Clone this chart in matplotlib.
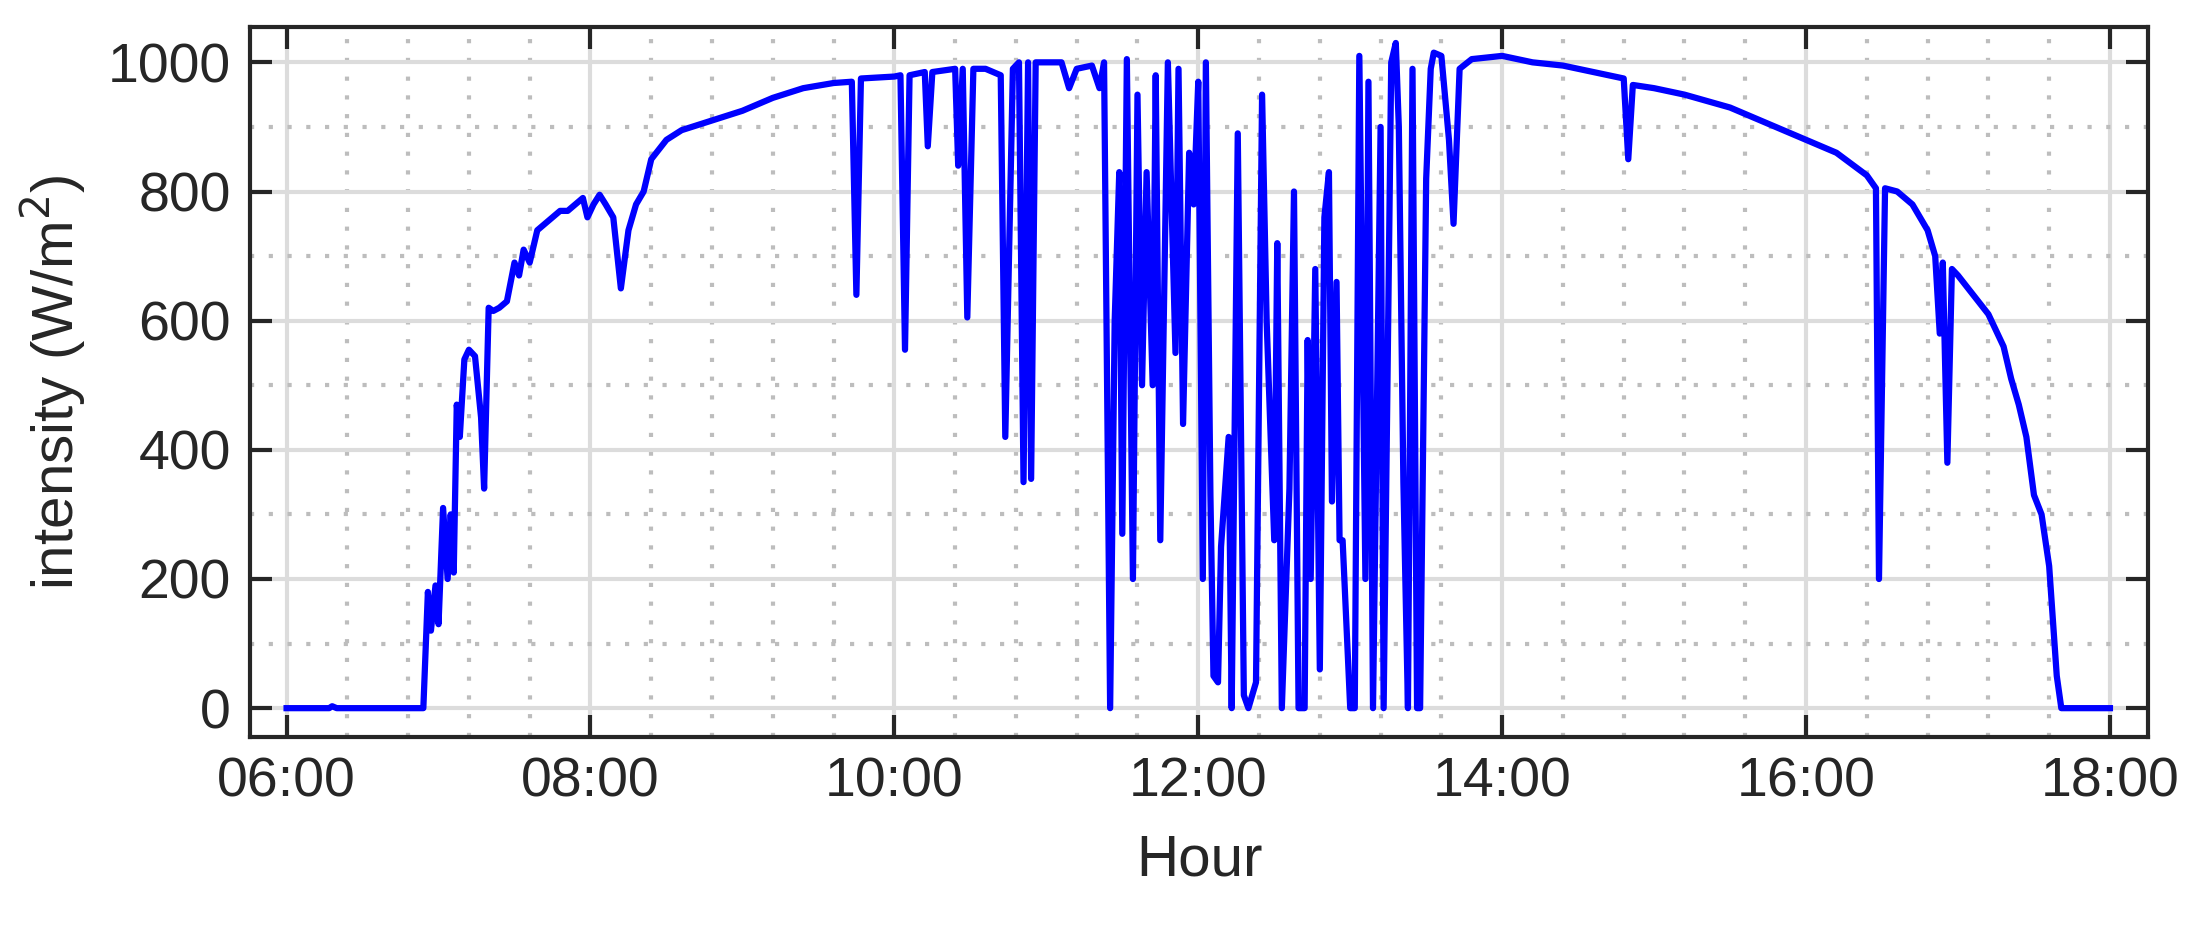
import matplotlib
matplotlib.use("Agg")
import matplotlib.pyplot as plt
from matplotlib.ticker import MultipleLocator, FuncFormatter

hours = [6.0, 6.28, 6.3, 6.33, 6.88, 6.9, 6.93, 6.95, 6.98, 7.0, 7.03, 7.06, 7.08, 7.1, 7.12, 7.14, 7.17, 7.2, 7.24, 7.28, 7.3,
         7.33, 7.36, 7.4, 7.45, 7.5, 7.53, 7.56, 7.6, 7.65, 7.7, 7.75, 7.8, 7.85, 7.9, 7.95, 7.98, 8.02, 8.06, 8.1, 8.15,
         8.2, 8.25, 8.3, 8.35, 8.4, 8.5, 8.6, 8.8, 9.0, 9.2, 9.4, 9.6, 9.72, 9.75, 9.78, 10.0, 10.04, 10.07, 10.1, 10.2,
         10.22, 10.25, 10.4, 10.42, 10.45, 10.48, 10.52, 10.6, 10.7, 10.73, 10.78, 10.82, 10.85, 10.88, 10.9, 10.93, 11.0,
         11.1, 11.15, 11.2, 11.3, 11.35, 11.38, 11.4, 11.42, 11.45, 11.48, 11.5, 11.53, 11.57, 11.6, 11.63, 11.66, 11.7,
         11.72, 11.75, 11.8, 11.85, 11.87, 11.9, 11.94, 11.97, 12.0, 12.03, 12.05, 12.08, 12.1, 12.13, 12.15, 12.2, 12.22,
         12.26, 12.3, 12.33, 12.38, 12.42, 12.45, 12.5, 12.52, 12.55, 12.6, 12.63, 12.66, 12.7, 12.72, 12.74, 12.77, 12.8,
         12.83, 12.86, 12.88, 12.91, 12.93, 12.95, 13.0, 13.03, 13.06, 13.1, 13.12, 13.15, 13.2, 13.22, 13.27, 13.3, 13.32,
         13.35, 13.38, 13.41, 13.44, 13.46, 13.5, 13.53, 13.55, 13.6, 13.65, 13.68, 13.72, 13.8, 14.0, 14.2, 14.4, 14.6,
         14.8, 14.83, 14.86, 15.0, 15.2, 15.5, 15.8, 16.0, 16.2, 16.4, 16.46, 16.48, 16.52, 16.6, 16.7, 16.8, 16.85, 16.88,
         16.9, 16.93, 16.96, 17.0, 17.1, 17.2, 17.3, 17.35, 17.4, 17.45, 17.5, 17.55, 17.6, 17.65, 17.68, 18.0]
intensity = [0, 0, 3, 0, 0, 0, 180, 120, 190, 130, 310, 200, 300, 210, 470, 420, 540, 555, 545, 450, 340,
             620, 615, 620, 630, 690, 670, 710, 690, 740, 750, 760, 770, 770, 780, 790, 760, 780, 795, 780, 760,
             650, 740, 780, 800, 850, 880, 895, 910, 925, 945, 960, 968, 970, 640, 975, 978, 980, 555, 980, 985,
             870, 985, 990, 840, 990, 605, 990, 990, 980, 420, 990, 1000, 350, 1000, 355, 1000, 1000,
             1000, 960, 990, 995, 960, 1000, 500, 0, 600, 830, 270, 1005, 200, 950, 500, 830, 500,
             980, 260, 1000, 550, 990, 440, 860, 780, 970, 200, 1000, 330, 50, 40, 250, 420, 0,
             890, 20, 0, 40, 950, 600, 260, 720, 0, 340, 800, 0, 0, 570, 200, 680, 60,
             760, 830, 320, 660, 260, 260, 0, 0, 1010, 200, 970, 0, 900, 0, 1000, 1030, 900,
             350, 0, 990, 0, 0, 820, 990, 1015, 1010, 880, 750, 990, 1005, 1010, 1000, 995, 985,
             975, 850, 965, 960, 950, 930, 900, 880, 860, 825, 805, 200, 805, 800, 780, 740, 700, 580,
             690, 380, 680, 670, 640, 610, 560, 510, 470, 420, 330, 300, 220, 50, 0, 0]

plt.rcParams['font.family'] = ['Liberation Sans', 'DejaVu Sans']
fig = plt.figure(figsize=(21.94, 9.25), dpi=100)
ax = fig.add_axes([0.114, 0.203, 0.865, 0.768])
ax.plot(hours, intensity, color='#0000ff', lw=4.5, zorder=3)
ax.set_xlim(5.76, 18.25)
ax.set_ylim(-45, 1055)
ax.xaxis.set_major_locator(MultipleLocator(2))
ax.xaxis.set_minor_locator(MultipleLocator(0.4))
ax.yaxis.set_major_locator(MultipleLocator(200))
ax.yaxis.set_minor_locator(MultipleLocator(100))
ax.xaxis.set_major_formatter(FuncFormatter(lambda v, p: f"{int(round(v)):02d}:00"))
ax.grid(which='major', color='#dcdcdc', lw=3, zorder=0)
ax.grid(which='minor', color='#bdbdbd', lw=3, ls=(0, (1, 3.5)), zorder=0)
ax.tick_params(which='major', direction='in', top=True, right=True, length=16, width=3, labelsize=40, pad=14, colors='#262626')
ax.tick_params(which='minor', length=0)
for s in ax.spines.values():
    s.set_linewidth(3); s.set_color('#262626')
ax.set_xlabel('Hour', fontsize=42, color='#262626', labelpad=18)
ax.set_ylabel('intensity (W/m$^2$)', fontsize=42, color='#262626', labelpad=14)
fig.savefig('out.png', dpi=100, facecolor='white')
